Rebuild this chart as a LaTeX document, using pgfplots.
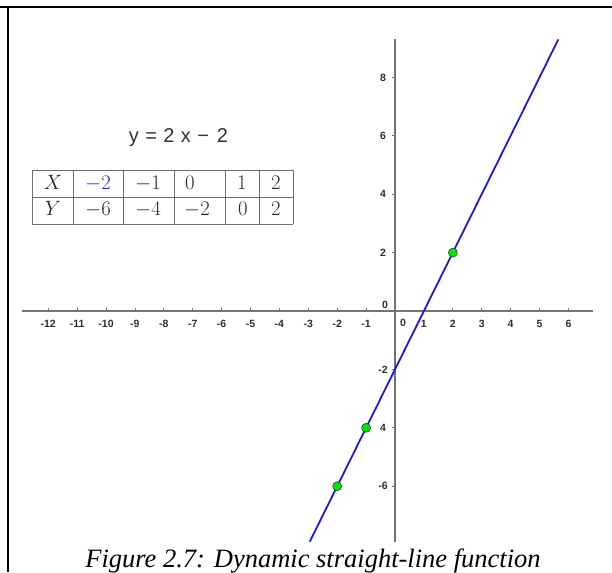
\documentclass[border=0pt]{standalone}
\usepackage{fontspec}
\setmainfont{Liberation Serif}
\newfontfamily\geo{Liberation Sans}
\usepackage{pgfplots}
\pgfplotsset{compat=1.18}
\definecolor{axgray}{RGB}{115,115,115}
\definecolor{lblgray}{RGB}{45,45,45}
\definecolor{lineblue}{RGB}{25,25,235}
\definecolor{ptgreen}{RGB}{0,230,0}
\definecolor{tabgray}{RGB}{110,110,110}
\definecolor{tabtext}{RGB}{40,40,40}
\definecolor{tabblue}{RGB}{40,40,240}
\begin{document}
\begin{tikzpicture}[x=1pt,y=1pt]
\useasboundingbox (0,0) rectangle (612,572);
% frame
\draw[line width=2pt] (0,565) -- (612,565);
\draw[line width=2pt] (8,566) -- (8,0);
% title
\node[anchor=base, font=\geo\fontsize{20}{23}\selectfont, text=black!80] at (178.5,429) {y\hspace{0.32em}=\hspace{0.32em}2\hspace{0.32em}x\hspace{0.32em}−\hspace{0.4em}2};
% table
\draw[tabgray, line width=0.8pt] (32,402) -- (293,402) (32,375) -- (293,375) (32,348) -- (293,348);
\foreach \xx in {32,73,123,174,225,259,293} {\draw[tabgray, line width=0.8pt] (\xx,402) -- (\xx,348);}
\begin{scope}[every node/.style={anchor=base, font=\fontsize{19.5}{22}\selectfont, text=tabtext, inner sep=0pt}]
\node at (53,382) {$X$};
\node[text=tabblue] at (98,382) {$-2$};
\node at (148,382) {$-1$};
\node at (190,382) {$0$};
\node at (242,382) {$1$};
\node at (276,382) {$2$};
\node at (53,356) {$Y$};
\node at (98,356) {$-6$};
\node at (148,356) {$-4$};
\node at (197,356) {$-2$};
\node at (243,356) {$0$};
\node at (276,356) {$2$};
\end{scope}
\begin{axis}[
  x=28.9pt, y=29.2pt,
  xmin=-12.9, xmax=6.84, ymin=-7.9, ymax=9.3,
  at={(22.2pt,30.3pt)}, anchor=south west,
  axis lines=middle,
  axis line style={-, draw=axgray, line width=1.1pt},
  xtick={-12,-11,-10,-9,-8,-7,-6,-5,-4,-3,-2,-1,1,2,3,4,5,6},
  xticklabels={-12,-11,-10,-9,-8,-7,-6,-5,-4,-3,-2,-1,1,2,3,4,5,6},
  ytick={-6,-4,-2,2,4,6,8},
  yticklabels={-6,4,-2,2,4,6,8},
  tick label style={font=\geo\bfseries\fontsize{10.5}{12}\selectfont, text=lblgray, inner sep=0pt},
  xticklabel style={anchor=center, yshift=-11.5pt},
  yticklabel style={anchor=center, xshift=-10.5pt},
  tick style={draw=axgray, line width=0.8pt},
  major tick length=3pt,
  xtick style={yshift=1.5pt},
  ytick style={xshift=-1.5pt},
  clip=false,
]
\addplot[lineblue, line width=1.8pt] coordinates {(-2.95,-7.9) (5.65,9.3)};
\addplot[only marks, mark=*, mark size=4.5pt, mark options={fill=ptgreen, draw=black!75, line width=0.6pt}] coordinates {(-2,-6) (-1,-4) (2,2)};
\node[font=\geo\bfseries\fontsize{10.5}{12}\selectfont, text=lblgray, inner sep=0pt] at (axis cs:0,0) [xshift=8pt, yshift=-11.5pt] {0};
\node[font=\geo\bfseries\fontsize{10.5}{12}\selectfont, text=lblgray, inner sep=0pt] at (axis cs:0,0) [xshift=-10pt, yshift=6pt] {0};
\end{axis}
% caption
\node[anchor=base, font=\itshape\fontsize{26.5}{30}\selectfont] at (313,5) {Figure 2.7: Dynamic straight-line function};
\end{tikzpicture}
\end{document}
